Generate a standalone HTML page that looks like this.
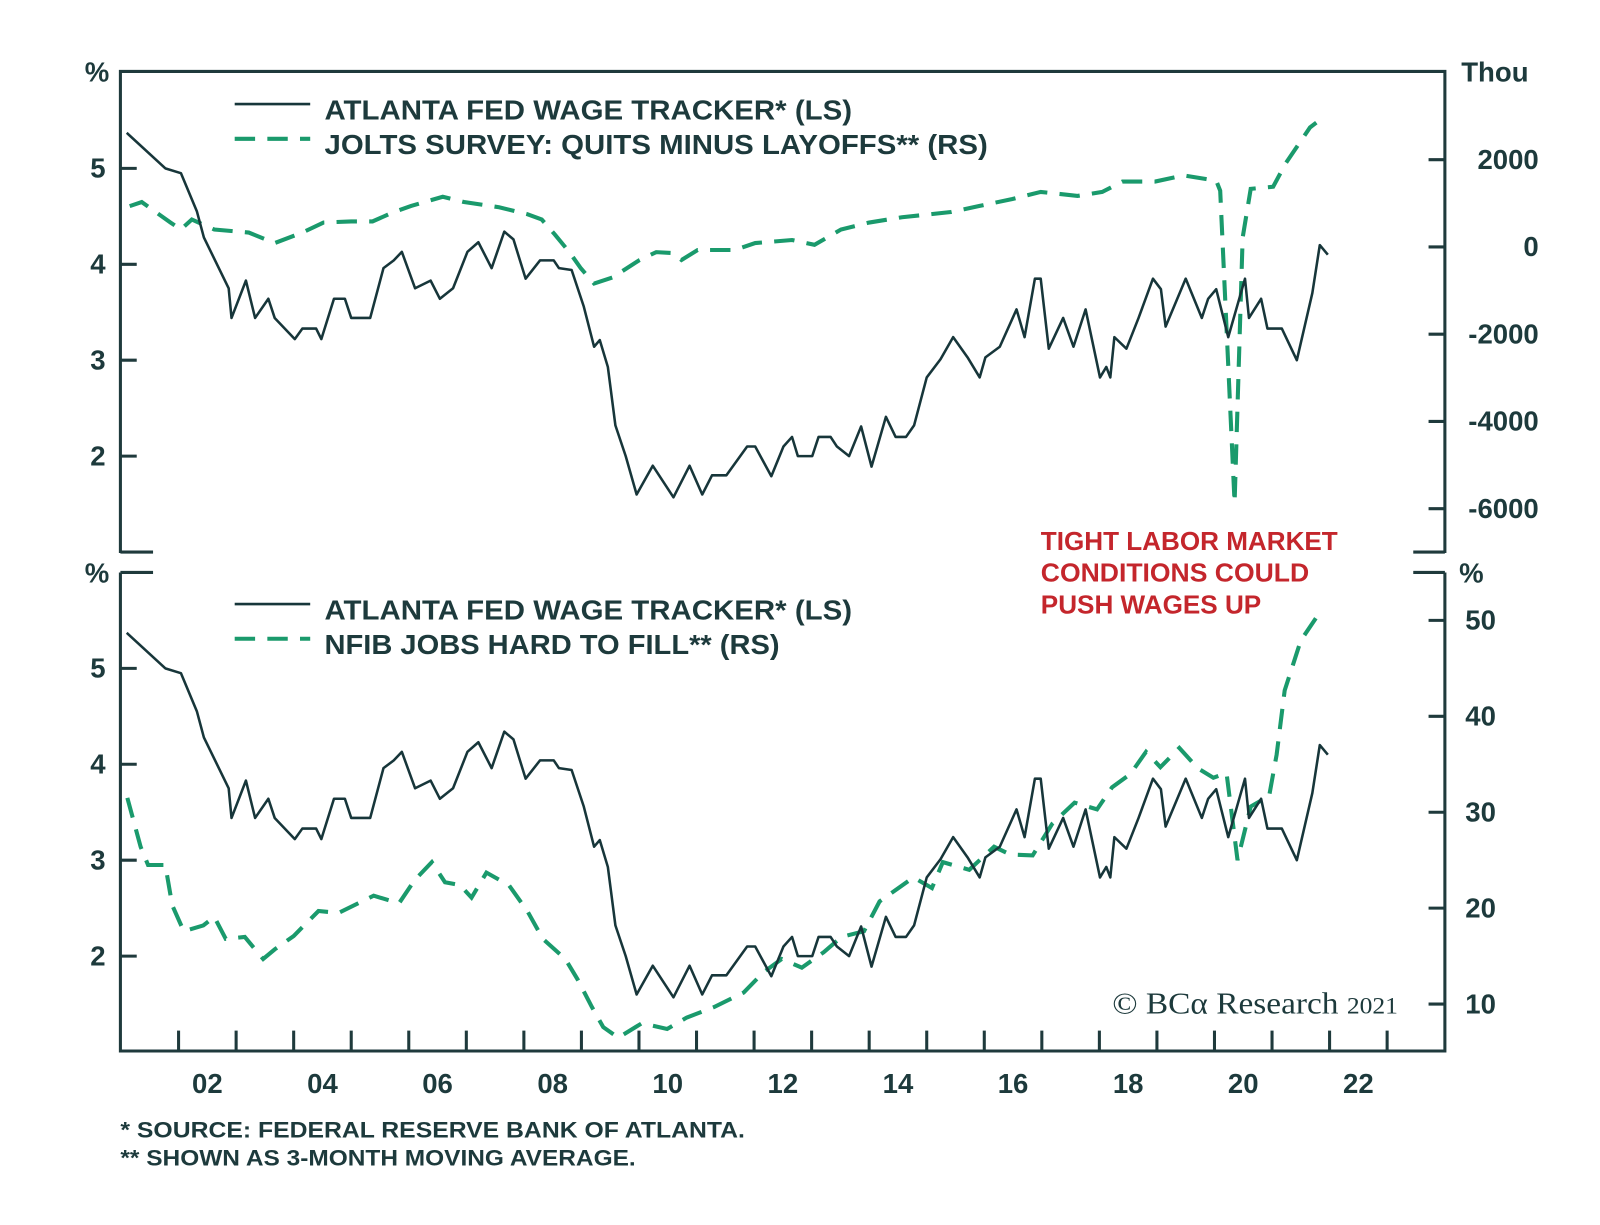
<!DOCTYPE html>
<html><head><meta charset="utf-8"><style>
html,body{margin:0;padding:0;background:#fff;}
svg{display:block;font-family:"Liberation Sans",Arial,sans-serif;}
.t{font-weight:bold;fill:#1d3a3c;}
</style></head><body>
<svg id="chart" width="1600" height="1225" viewBox="0 0 1600 1225">
<g transform="scale(1.0204)">
<g id="frame" stroke="#1f3a3c" stroke-width="3" fill="none">
  <path d="M118,542 L118,70 L1416,70 L1416,542"/>
  <path d="M118,541 L150,541 M1385,541 L1416,541"/>
  <path d="M118,561 L150,561 M1385,561 L1416,561"/>
  <path d="M118,561 L118,1030 L1416,1030 L1416,561"/>
</g>
<g id="ticks" stroke="#1f3a3c" stroke-width="3"></g>
<g id="labels"></g>
<g id="series"></g>
<g>
  <line x1="230" y1="102" x2="304" y2="102" stroke="#17363a" stroke-width="2.5"/>
  <text x="318" y="117" class="t" font-size="27" textLength="517" lengthAdjust="spacingAndGlyphs">ATLANTA FED WAGE TRACKER* (LS)</text>
  <line x1="230" y1="136" x2="304" y2="136" stroke="#1a9a6c" stroke-width="4" stroke-dasharray="20,12"/>
  <text x="318" y="151" class="t" font-size="27" textLength="650" lengthAdjust="spacingAndGlyphs">JOLTS SURVEY: QUITS MINUS LAYOFFS** (RS)</text>
</g>
<g>
  <line x1="230" y1="592" x2="304" y2="592" stroke="#17363a" stroke-width="2.5"/>
  <text x="318" y="607" class="t" font-size="27" textLength="517" lengthAdjust="spacingAndGlyphs">ATLANTA FED WAGE TRACKER* (LS)</text>
  <line x1="230" y1="626" x2="304" y2="626" stroke="#1a9a6c" stroke-width="4" stroke-dasharray="20,12"/>
  <text x="318" y="641" class="t" font-size="27" textLength="446" lengthAdjust="spacingAndGlyphs">NFIB JOBS HARD TO FILL** (RS)</text>
</g>
<g font-size="25" font-weight="bold" fill="#c4262c">
  <text x="1020" y="539" textLength="291" lengthAdjust="spacingAndGlyphs">TIGHT LABOR MARKET</text>
  <text x="1020" y="570" textLength="263" lengthAdjust="spacingAndGlyphs">CONDITIONS COULD</text>
  <text x="1020" y="601" textLength="216" lengthAdjust="spacingAndGlyphs">PUSH WAGES UP</text>
</g>
<text x="1090" y="993" font-family="'Liberation Serif',serif" font-size="30" fill="#1d3a3c" textLength="280" lengthAdjust="spacingAndGlyphs">© BCα Research <tspan font-size="23">2021</tspan></text>
<text x="118" y="1115" class="t" font-size="22" textLength="612" lengthAdjust="spacingAndGlyphs">*  SOURCE: FEDERAL RESERVE BANK OF ATLANTA.</text>
<text x="118" y="1142" class="t" font-size="22" textLength="505" lengthAdjust="spacingAndGlyphs">** SHOWN AS 3-MONTH MOVING AVERAGE.</text>
</g>
</svg>
<script>
const wageDates=[2001.10,2001.77,2002.04,2002.32,2002.44,2002.87,2002.92,2003.17,2003.33,2003.56,2003.67,2004.02,2004.15,2004.39,2004.48,2004.70,2004.89,2005.00,2005.33,2005.56,2005.74,2005.88,2006.11,2006.38,2006.54,2006.77,2007.02,2007.21,2007.44,2007.66,2007.82,2008.03,2008.28,2008.52,2008.61,2008.83,2009.04,2009.22,2009.32,2009.46,2009.59,2009.77,2009.96,2010.24,2010.60,2010.88,2011.10,2011.27,2011.52,2011.88,2012.02,2012.30,2012.51,2012.66,2012.76,2013.01,2013.12,2013.33,2013.44,2013.65,2013.86,2014.04,2014.29,2014.46,2014.64,2014.78,2015.00,2015.24,2015.46,2015.71,2015.92,2016.02,2016.27,2016.56,2016.70,2016.88,2016.98,2017.12,2017.37,2017.55,2017.76,2018.01,2018.12,2018.19,2018.26,2018.47,2018.68,2018.93,2019.07,2019.15,2019.50,2019.78,2019.89,2020.03,2020.24,2020.53,2020.60,2020.81,2020.92,2021.17,2021.43,2021.70,2021.83,2021.97];
const wageValues=[5.37,5.0,4.95,4.55,4.28,3.75,3.44,3.83,3.44,3.64,3.44,3.22,3.33,3.33,3.22,3.64,3.64,3.44,3.44,3.96,4.04,4.13,3.75,3.83,3.64,3.75,4.13,4.23,3.96,4.34,4.26,3.85,4.04,4.04,3.96,3.94,3.56,3.14,3.21,2.93,2.32,2.0,1.6,1.9,1.57,1.9,1.6,1.8,1.8,2.1,2.1,1.79,2.1,2.2,2.0,2.0,2.2,2.2,2.1,2.0,2.31,1.89,2.41,2.2,2.2,2.32,2.82,3.01,3.24,3.03,2.82,3.03,3.14,3.53,3.24,3.85,3.85,3.12,3.44,3.14,3.53,2.82,2.93,2.82,3.24,3.12,3.44,3.85,3.74,3.35,3.85,3.44,3.64,3.74,3.24,3.85,3.44,3.64,3.33,3.33,3.0,3.7,4.2,4.1];
const joltsDates=[2001.15,2001.36,2001.86,2002.04,2002.23,2002.62,2003.22,2003.67,2004.15,2004.52,2005.00,2005.37,2005.74,2006.04,2006.59,2006.96,2007.57,2008.06,2008.31,2008.54,2008.79,2008.99,2009.22,2009.54,2010.01,2010.30,2010.60,2010.74,2011.02,2011.66,2012.02,2012.66,2013.05,2013.51,2014.00,2014.57,2015.07,2015.42,2015.92,2016.49,2016.98,2017.62,2018.05,2018.40,2018.97,2019.46,2020.03,2020.10,2020.35,2020.49,2020.63,2021.02,2021.24,2021.66,2021.77];
const joltsValues=[936,1030,560,400,630,400,330,90,330,560,585,585,800,940,1150,1030,910,750,630,280,-120,-490,-840,-700,-300,-120,-140,-300,-70,-70,90,160,50,400,560,680,750,800,940,1100,1260,1170,1260,1500,1500,1640,1520,1290,-5870,210,1330,1380,1920,2740,2850];
const nfibDates=[2001.11,2001.34,2001.47,2001.77,2001.89,2002.09,2002.43,2002.62,2002.82,2003.15,2003.47,2003.67,2004.00,2004.43,2004.78,2005.39,2005.83,2006.10,2006.40,2006.63,2006.89,2007.09,2007.35,2007.74,2008.06,2008.33,2008.72,2008.93,2009.18,2009.38,2009.64,2010.05,2010.49,2010.83,2011.31,2011.82,2012.16,2012.48,2012.83,2013.21,2013.52,2013.91,2014.18,2014.77,2015.09,2015.28,2015.74,2016.17,2016.45,2016.84,2017.18,2017.57,2017.96,2018.22,2018.54,2018.81,2019.06,2019.39,2019.71,2019.98,2020.21,2020.40,2020.63,2020.95,2021.08,2021.22,2021.50,2021.77];
const nfibValues=[31.5,26.4,24.5,24.5,20.3,17.6,18.2,19.1,16.8,17.0,14.7,15.7,17.1,19.7,19.5,21.3,20.5,22.9,24.8,22.7,22.4,21.1,23.7,22.4,19.7,16.8,14.7,12.6,9.7,7.6,6.5,8.0,7.4,8.6,9.7,11.2,13.3,14.7,13.8,15.4,17.0,17.6,20.7,23.2,22.1,24.8,24.0,26.4,25.6,25.5,28.8,31.0,30.3,32.6,34.0,36.3,34.7,36.7,34.6,33.6,34.1,25.0,30.6,31.7,36.0,42.7,47.9,50.3];
const leftTicks=[2,3,4,5];
const joltsTicks=[-6000,-4000,-2000,0,2000];
const nfibTicks=[10,20,30,40,50];
const yearTickYears=[2002,2003,2004,2005,2006,2007,2008,2009,2010,2011,2012,2013,2014,2015,2016,2017,2018,2019,2020,2021,2022,2023];
const yearLabels=["02","04","06","08","10","12","14","16","18","20","22"];

const NS="http://www.w3.org/2000/svg";
const xS=y=>175+56.4*(y-2002);
const yTopL=v=>165+(5-v)*94;
const yBotL=v=>655+(5-v)*94;
const yJolts=v=>242-v*0.04275;
const yNfib=v=>984-(v-10)*9.4;
function mk(tag,attrs,parent){const e=document.createElementNS(NS,tag);for(const k in attrs)e.setAttribute(k,attrs[k]);parent.appendChild(e);return e;}
const ticks=document.getElementById('ticks'),labels=document.getElementById('labels'),series=document.getElementById('series');
function txt(x,y,s,anchor,size,name){const t=mk('text',{x:x,y:y,'text-anchor':anchor,'font-size':size,class:'t'},labels);t.textContent=s;

return t;}
leftTicks.forEach(v=>{
  let l=mk('line',{x1:118,x2:134,y1:yTopL(v),y2:yTopL(v)},ticks);
  
  
  txt(96,yTopL(v)+9,String(v),'middle',27,'top-left-tick-label');
  let l2=mk('line',{x1:118,x2:134,y1:yBotL(v),y2:yBotL(v)},ticks);
  
  
  txt(96,yBotL(v)+9,String(v),'middle',27,'bottom-left-tick-label');
});
joltsTicks.forEach(v=>{
  let l=mk('line',{x1:1400,x2:1416,y1:yJolts(v),y2:yJolts(v)},ticks);
  
  
  txt(1508,yJolts(v)+9,String(v),'end',27,'top-right-tick-label');
});
nfibTicks.forEach(v=>{
  let l=mk('line',{x1:1400,x2:1416,y1:yNfib(v),y2:yNfib(v)},ticks);
  
  
  txt(1466,yNfib(v)+9,String(v),'end',27,'bottom-right-tick-label');
});
yearTickYears.forEach(y=>{
  let l=mk('line',{x1:xS(y),x2:xS(y),y1:1030,y2:1010},ticks);
  
  
});
yearLabels.forEach(s=>{txt(xS(2000+parseInt(s,10)+0.5),1071,s,'middle',27,'x-tick-label');});
txt(95,80,'%','middle',27,'top-left-unit');
txt(95,571,'%','middle',27,'bottom-left-unit');
txt(1465,80,'Thou','middle',27,'top-right-unit');
txt(1442,571,'%','middle',27,'bottom-right-unit');

function path(dates,vals,yf){return dates.map((d,i)=>(i?'L':'M')+xS(d).toFixed(1)+','+yf(vals[i]).toFixed(1)).join(' ');}
let p;
p=mk('path',{d:path(joltsDates,joltsValues,yJolts),fill:'none',stroke:'#1a9a6c','stroke-width':4,'stroke-dasharray':'20,12'},series);


p=mk('path',{d:path(wageDates,wageValues,yTopL),fill:'none',stroke:'#17363a','stroke-width':2.5,'stroke-linejoin':'round'},series);


p=mk('path',{d:path(nfibDates,nfibValues,yNfib),fill:'none',stroke:'#1a9a6c','stroke-width':4,'stroke-dasharray':'20,12'},series);


p=mk('path',{d:path(wageDates,wageValues,yBotL),fill:'none',stroke:'#17363a','stroke-width':2.5,'stroke-linejoin':'round'},series);


</script>
</body></html>
